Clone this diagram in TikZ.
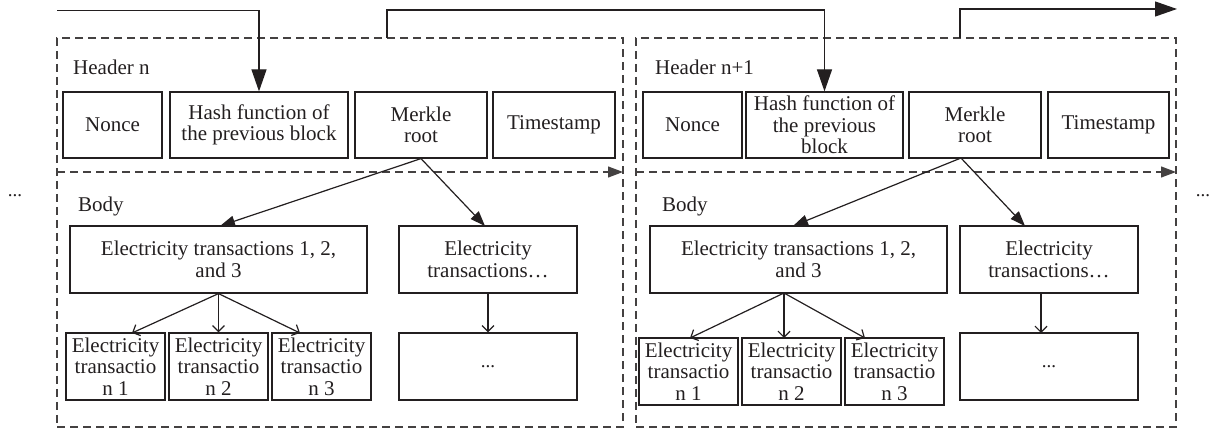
\documentclass[tikz,border=0pt]{standalone}
\usepackage{fontspec}
\setmainfont{Liberation Serif}
\usetikzlibrary{arrows.meta}
\definecolor{ink}{HTML}{231F20}
\begin{document}
\begin{tikzpicture}[x=1pt,y=-1pt,
  ln/.style={draw=ink, line width=1.2pt},
  box/.style={ln, rectangle, inner sep=0pt, align=center, text=ink,
    font=\fontsize{21}{21.5}\selectfont},
  dbox/.style={draw=ink!85, line width=1.2pt, dash pattern=on 8pt off 5pt},
  big/.style={-{Triangle[length=22pt,width=15pt]}},
  mid/.style={-{Triangle[length=15pt,width=11pt]}},
  opn/.style={-{Straight Barb[length=6pt,width=12pt]}},
  lbl/.style={font=\fontsize{21}{21}\selectfont, text=ink, inner sep=0pt, anchor=base west},
  dotsty/.style={font=\fontsize{19}{19}\selectfont, text=ink, inner sep=0pt}
]
\useasboundingbox (0,0) rectangle (1210,430);

% ---------- outer dashed blocks ----------
\node[dbox, minimum width=566pt, minimum height=389pt, inner sep=0pt] (blk1) at (340,232.5) {};
\node[dbox, minimum width=540pt, minimum height=389pt, inner sep=0pt] (blk2) at (906,232.5) {};

\coordinate (h1a) at (57,172);  \coordinate (h1b) at (623,172);
\coordinate (h2a) at (636,172); \coordinate (h2b) at (1176,172);
\draw[dbox, mid] (h1a) -- (h1b);
\draw[dbox, mid] (h2a) -- (h2b);

\node[lbl] (hdr1) at (73,75) {Header n};
\node[lbl] (hdr2) at (655,75) {Header n+1};
\node[lbl] (bdy1) at (78,212) {Body};
\node[lbl] (bdy2) at (662,212) {Body};

\node[dotsty] (dl) at (15,196) {...};
\node[dotsty] (dr) at (1203,196) {...};

% ---------- block 1 header ----------
\node[box, minimum width=99pt, minimum height=66pt] (non1) at (112.5,125) {Nonce};
\node[box, minimum width=178pt, minimum height=66pt] (hash1) at (259,125) {Hash function of\\the previous block};
\node[box, minimum width=132pt, minimum height=66pt] (mer1) at (421,125) {Merkle\\root};
\node[box, minimum width=122pt, minimum height=66pt] (ts1) at (554,125) {Timestamp};

% ---------- block 2 header ----------
\node[box, minimum width=99pt, minimum height=66pt] (non2) at (692.5,125) {Nonce};
\node[box, minimum width=157pt, minimum height=66pt] (hash2) at (824.5,125) {Hash function of\\the previous\\block};
\node[box, minimum width=132pt, minimum height=66pt] (mer2) at (975,125) {Merkle\\root};
\node[box, minimum width=121pt, minimum height=66pt] (ts2) at (1108.5,125) {Timestamp};

% ---------- block 1 body ----------
\node[box, minimum width=297pt, minimum height=67pt] (e1) at (218.5,259.5) {Electricity transactions 1, 2,\\and 3};
\node[box, minimum width=178pt, minimum height=67pt] (ex1) at (488,259.5) {Electricity\\transactions…};
\node[box, minimum width=99pt, minimum height=67pt] (s11) at (115.5,366.5) {Electricity\\transactio\\n 1};
\node[box, minimum width=99pt, minimum height=67pt] (s12) at (218.5,366.5) {Electricity\\transactio\\n 2};
\node[box, minimum width=99pt, minimum height=67pt] (s13) at (321.5,366.5) {Electricity\\transactio\\n 3};
\node[box, minimum width=178pt, minimum height=67pt] (d1) at (488,366.5) {\fontsize{19}{19}\selectfont ...};

% ---------- block 2 body ----------
\node[box, minimum width=297pt, minimum height=67pt] (e2) at (798.5,259.5) {Electricity transactions 1, 2,\\and 3};
\node[box, minimum width=178pt, minimum height=67pt] (ex2) at (1049,259.5) {Electricity\\transactions…};
\node[box, minimum width=99pt, minimum height=67pt] (s21) at (688.5,371.5) {Electricity\\transactio\\n 1};
\node[box, minimum width=99pt, minimum height=67pt] (s22) at (791.5,371.5) {Electricity\\transactio\\n 2};
\node[box, minimum width=99pt, minimum height=67pt] (s23) at (894.5,371.5) {Electricity\\transactio\\n 3};
\node[box, minimum width=178pt, minimum height=67pt] (d2) at (1049,366.5) {\fontsize{19}{19}\selectfont ...};

% ---------- chain connectors ----------
\coordinate (st1) at (57,10.5);
\coordinate (o1) at (387,38);  \coordinate (t1) at (387,10);
\coordinate (o2) at (960,38);  \coordinate (t2) at (960,9);
\coordinate (en2) at (1177,9);
\draw[ln, big] (st1) -| (hash1.north);
\draw[ln, big] (o1) -- (t1) -| (hash2.north);
\draw[ln, big] (o2) -- (t2) -- (en2);

% ---------- merkle arrows ----------
\coordinate (a11) at (220,226); \coordinate (a12) at (485,226);
\coordinate (m2s) at (961,158);
\coordinate (a21) at (793,226); \coordinate (a22) at (1025,226);
\draw[ln, mid] (mer1.south) -- (a11);
\draw[ln, mid] (mer1.south) -- (a12);
\draw[ln, mid] (m2s) -- (a21);
\draw[ln, mid] (m2s) -- (a22);

% ---------- transaction arrows ----------
\coordinate (b11) at (132,333); \coordinate (b13) at (300,333);
\draw[ln, opn] (e1.south) -- (b11);
\draw[ln, opn] (e1.south) -- (s12.north);
\draw[ln, opn] (e1.south) -- (b13);
\draw[ln, opn] (ex1.south) -- (d1.north);

\coordinate (e2s) at (784,293);
\coordinate (b21) at (690,338); \coordinate (b22) at (784,338); \coordinate (b23) at (865,338);
\draw[ln, opn] (e2s) -- (b21);
\draw[ln, opn] (e2s) -- (b22);
\draw[ln, opn] (e2s) -- (b23);
\coordinate (x2s) at (1041,293); \coordinate (x2e) at (1041,333);
\draw[ln, opn] (x2s) -- (x2e);
\end{tikzpicture}
\end{document}
